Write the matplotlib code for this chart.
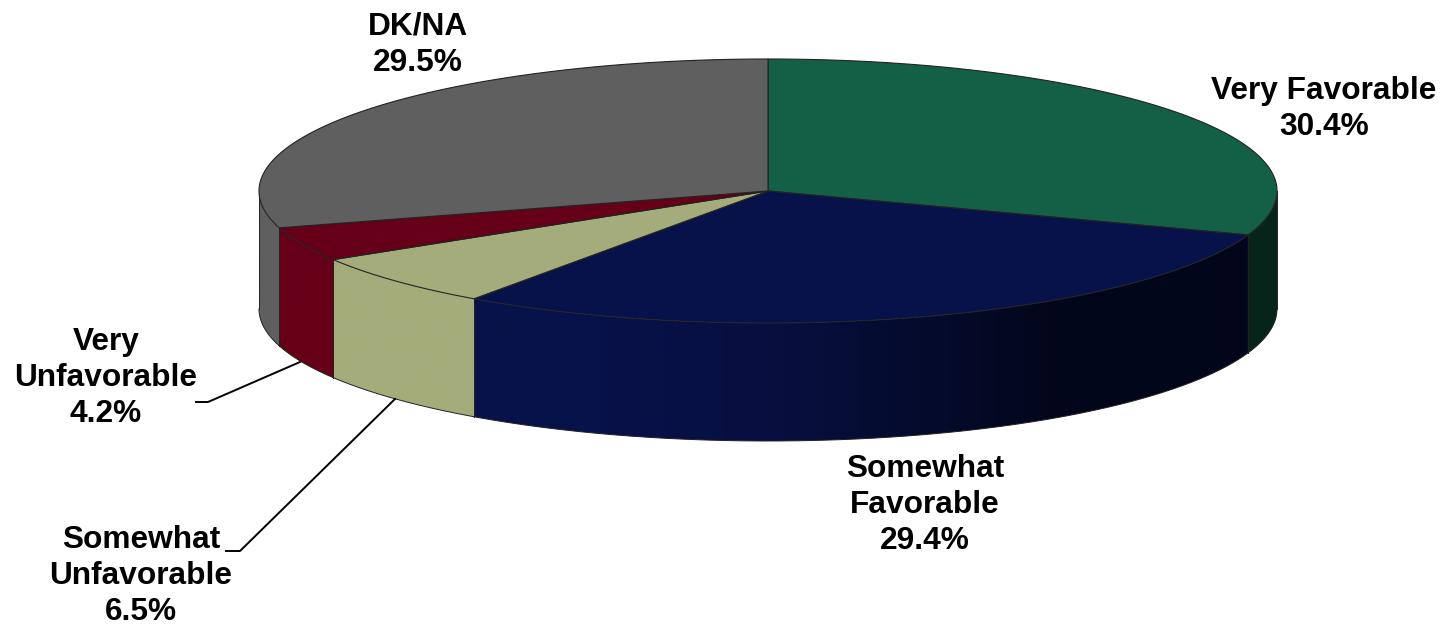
import numpy as np
import matplotlib
matplotlib.use("Agg")
import matplotlib.pyplot as plt
from matplotlib.patches import Polygon
from matplotlib.colors import to_rgb

labels = ["Very Favorable", "Somewhat\nFavorable", "Somewhat\nUnfavorable", "Very\nUnfavorable", "DK/NA"]
values = [30.4, 29.4, 6.5, 4.2, 29.5]
top_colors = ["#136046", "#08124a", "#a4ac7b", "#660018", "#5f5f5f"]

W, H = 1443, 626
CX, CY, RX, RY, DEPTH = 768, 191, 509, 132, 118
EDGE = "#222222"

plt.rcParams["font.family"] = ["Liberation Sans", "DejaVu Sans"]


def rim(t):
    return CX + RX * np.sin(t), CY - RY * np.cos(t)


def shade(x):
    # side wall gets darker to the right of the pie
    return np.interp(x, [600, 800, 1060, 1277], [1.0, 0.82, 0.36, 0.38])


fig = plt.figure(figsize=(W / 100, H / 100), dpi=100)
ax = fig.add_axes([0, 0, 1, 1])
ax.set_xlim(0, W)
ax.set_ylim(H, 0)
ax.axis("off")

cum = np.cumsum([0] + values) / sum(values) * 2 * np.pi

# side walls
for i in range(len(values)):
    a, b = cum[i], cum[i + 1]
    lo, hi = max(a, np.pi / 2), min(b, 3 * np.pi / 2)
    if hi <= lo:
        continue
    ts = np.linspace(lo, hi, 200)
    x, y = rim(ts)
    outline = list(zip(x, y)) + list(zip(x[::-1], y[::-1] + DEPTH))
    x_lo, x_hi = x.min(), x.max()
    cols = np.linspace(x_lo, x_hi, max(int(x_hi - x_lo), 2))
    strip = np.outer(shade(cols), np.array(to_rgb(top_colors[i])))[np.newaxis, :, :]
    im = ax.imshow(strip, extent=[x_lo, x_hi, y.max() + DEPTH, y.min()], aspect="auto", zorder=2,
                   interpolation="bilinear")
    clip = Polygon(outline, closed=True, transform=ax.transData)
    im.set_clip_path(clip)
    ax.plot(x, y + DEPTH, color=EDGE, lw=0.7, zorder=3)
    ax.plot([x[0], x[0]], [y[0], y[0] + DEPTH], color=EDGE, lw=0.7, zorder=3)
    ax.plot([x[-1], x[-1]], [y[-1], y[-1] + DEPTH], color=EDGE, lw=0.7, zorder=3)
ax.set_xlim(0, W)
ax.set_ylim(H, 0)

# top face
for i in range(len(values)):
    ts = np.linspace(cum[i], cum[i + 1], 200)
    x, y = rim(ts)
    pts = [(CX, CY)] + list(zip(x, y))
    ax.add_patch(Polygon(pts, closed=True, facecolor=top_colors[i], edgecolor=EDGE, linewidth=0.8, zorder=4))

# labels
text_pos = [(1324, 109), (925, 505), (141, 576), (106, 378), (418, 45)]
for lab, v, (tx, ty) in zip(labels, values, text_pos):
    ax.text(tx, ty, f"{lab}\n{v:.1f}%", ha="center", va="center", fontsize=22.8, fontweight="bold",
            color="black", linespacing=1.27, zorder=6)

# leader lines
ax.plot([196, 208, 300], [402, 402, 362], color="black", lw=1.4, zorder=5)
ax.plot([226, 240, 395], [551, 551, 399], color="black", lw=1.4, zorder=5)

fig.savefig("out.png", dpi=100)
